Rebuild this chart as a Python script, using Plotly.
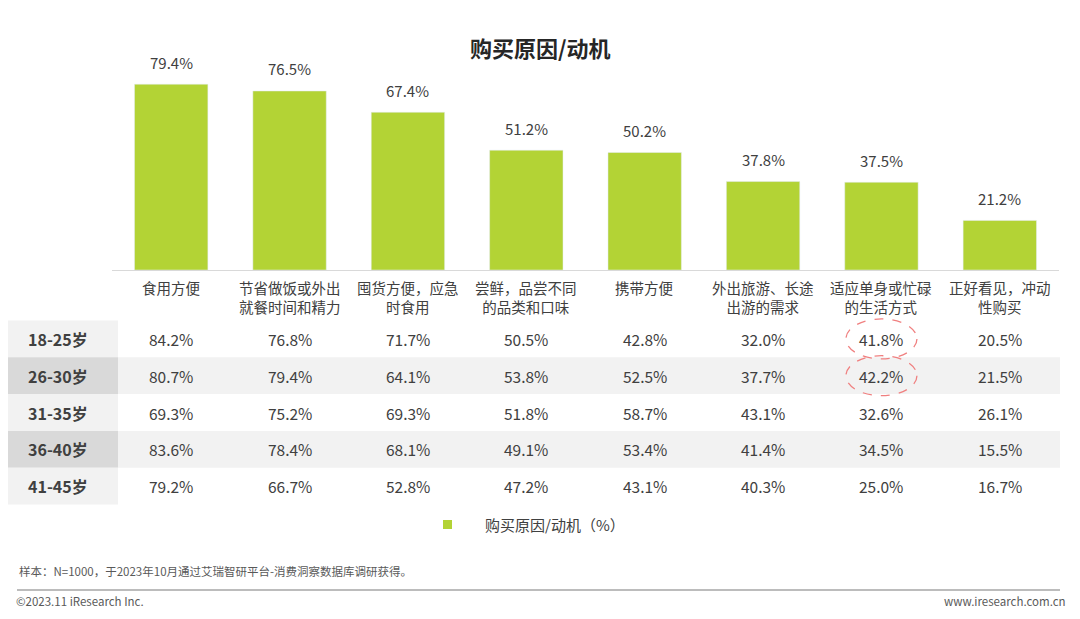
import plotly.graph_objects as go

categories = ["食用方便", "节省做饭或外出<br>就餐时间和精力", "囤货方便，应急<br>时食用", "尝鲜，品尝不同<br>的品类和口味",
              "携带方便", "外出旅游、长途<br>出游的需求", "适应单身或忙碌<br>的生活方式", "正好看见，冲动<br>性购买"]
overall = [79.4, 76.5, 67.4, 51.2, 50.2, 37.8, 37.5, 21.2]
age_groups = ["18-25岁", "26-30岁", "31-35岁", "36-40岁", "41-45岁"]
table_values = [
    [84.2, 76.8, 71.7, 50.5, 42.8, 32.0, 41.8, 20.5],
    [80.7, 79.4, 64.1, 53.8, 52.5, 37.7, 42.2, 21.5],
    [69.3, 75.2, 69.3, 51.8, 58.7, 43.1, 32.6, 26.1],
    [83.6, 78.4, 68.1, 49.1, 53.4, 41.4, 34.5, 15.5],
    [79.2, 66.7, 52.8, 47.2, 43.1, 40.3, 25.0, 16.7],
]
highlight = [(0, 6), (1, 6)]

OFF = 8
W, H = 1080 - 2 * OFF, 619 - 2 * OFF
def py(p): return 1 - (p - OFF) / H
def px(p): return (p - OFF) / W

GREEN = "#b3d335"
FONT = "Noto Sans CJK SC"
idx = list(range(len(categories)))

fig = go.Figure(go.Bar(x=idx, y=overall, marker_color=GREEN, width=0.62,
                       name="购买原因/动机（%）", showlegend=False))

fig.update_layout(
    width=W, height=H, margin=dict(l=0, r=0, t=0, b=0),
    paper_bgcolor="white", plot_bgcolor="white",
    font=dict(family=FONT, color="#404040"),
    xaxis=dict(domain=[px(112), px(1059)], range=[-0.5, 7.5], showticklabels=False,
               showgrid=False, zeroline=False, showline=True, linecolor="#d9d9d9", linewidth=1),
    yaxis=dict(domain=[py(270), py(36)], range=[0, 100], visible=False),
)

ann = []
shapes = []
def A(text, x, y, xref="paper", yref="paper", xanchor="center", yanchor="middle", size=15, color="#404040", yshift=0):
    ann.append(dict(text=text, x=x, y=y, xref=xref, yref=yref, xanchor=xanchor, yanchor=yanchor,
                    showarrow=False, yshift=yshift, font=dict(size=size, color=color)))

for i, v in enumerate(overall):
    A(f"{v:.1f}%", i, v, xref="x", yref="y", yshift=22, size=15)

A("<b>购买原因/动机</b>", px(540), py(47), size=22, color="#262626")
for i, c in enumerate(categories):
    A(c, i, py(275), xref="x", yanchor="top", size=14.5)

row_top = 320.5
row_h = 36.8
for r, (g, vals) in enumerate(zip(age_groups, table_values)):
    y0 = row_top + r * row_h
    y1 = y0 + row_h
    yc = (y0 + y1) / 2
    alt = r % 2 == 1
    shapes.append(dict(type="rect", xref="paper", yref="paper", x0=px(0), x1=px(118),
                       y0=py(y1), y1=py(y0), fillcolor="#d9d9d9" if alt else "#f2f2f2", line_width=0, layer="below"))
    if alt:
        shapes.append(dict(type="rect", xref="paper", yref="paper", x0=px(118), x1=px(1060),
                           y0=py(y1), y1=py(y0), fillcolor="#f2f2f2", line_width=0, layer="below"))
    A(f"<b>{g}</b>", px(58), py(yc), size=16)
    for i, v in enumerate(vals):
        A(f"{v:.1f}%", i, py(yc), xref="x", size=15.5)

for r, c in highlight:
    yc = row_top + r * row_h + row_h / 2
    shapes.append(dict(type="circle", xref="x", yref="paper", x0=c - 0.3, x1=c + 0.3,
                       y0=py(yc + 20), y1=py(yc - 20), line=dict(color="#f08080", width=1.3, dash="dash")))

shapes.append(dict(type="rect", xref="paper", yref="paper", x0=px(443), x1=px(452),
                   y0=py(529), y1=py(520), fillcolor=GREEN, line_width=0))
A("购买原因/动机（%）", px(483), py(524), xanchor="left", size=15)
A("样本：N=1000，于2023年10月通过艾瑞智研平台-消费洞察数据库调研获得。", px(17), py(571), xanchor="left", size=11.5, color="#595959")
shapes.append(dict(type="line", xref="paper", yref="paper", x0=px(17), x1=px(1060), y0=py(590), y1=py(590),
                   line=dict(color="#a6a6a6", width=1.5)))
A("©2023.11 iResearch Inc.", px(14), py(601), xanchor="left", size=11.5, color="#595959")
A("www.iresearch.com.cn", px(1068), py(601), xanchor="right", size=11.5, color="#595959")

fig.update_layout(annotations=ann, shapes=shapes)
fig.write_html("out.html")
